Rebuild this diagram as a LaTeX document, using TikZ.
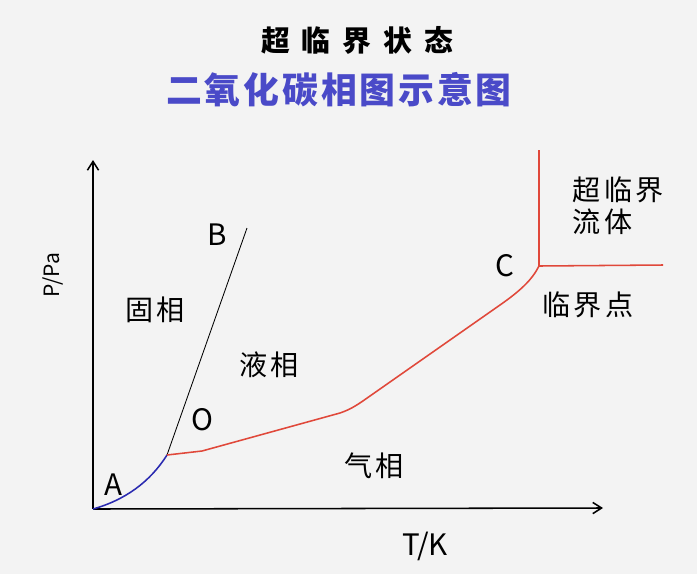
\documentclass[tikz,border=0pt]{standalone}
\usepackage{fontspec}
\setmainfont{Noto Sans CJK SC}
\newfontfamily\cjkphase[LetterSpace=13]{Noto Sans CJK SC}
\newfontfamily\cjksub[LetterSpace=8]{Noto Sans CJK SC}
\usetikzlibrary{positioning,arrows.meta}
\definecolor{paper}{HTML}{F3F3F3}
\definecolor{curvered}{HTML}{E0483A}
\definecolor{curveblue}{HTML}{2A2AB0}
\definecolor{titleblue}{HTML}{4A4AC8}

\begin{document}
\begin{tikzpicture}[x=0.025cm,y=-0.025cm,
  axis/.style={line width=1.1pt,-{Straight Barb[length=2.2mm,width=2.8mm]}},
  redline/.style={curvered,line width=1.1pt},
  blueline/.style={curveblue,line width=1.1pt},
  phase/.style={inner sep=0pt,font=\cjkphase\fontsize{20}{22.7}\selectfont},
  letter/.style={inner sep=0pt,font=\fontsize{21}{24}\selectfont}]
\fill[paper] (0,0) rectangle (697,574);

% titles
\node[inner sep=0pt,font=\bfseries\fontsize{20.5}{22}\selectfont] (title) at (357,40)
  {超\hspace{8.5pt}临\hspace{8.5pt}界\hspace{8.5pt}状\hspace{8.5pt}态};
\node[inner sep=0pt,text=titleblue,font=\cjksub\bfseries\fontsize{25.5}{28}\selectfont] (subtitle) at (339,90) {二氧化碳相图示意图};

% axes
\coordinate (origin) at (93,509);
\coordinate (ytop) at (93,160);
\coordinate (xend) at (603,508);
\draw[axis] (origin) -- (ytop);
\draw[axis] (origin) -- (xend);
\node[inner sep=0pt,rotate=90,font=\fontsize{15}{18}\selectfont] (pname) at (53,275) {P/Pa};
\node[letter,below=0.6cm of xend,xshift=-4.45cm] (tname) {T/K};

% phase boundaries
\coordinate (O) at (167,455);
\coordinate (Bend) at (247,228);
\coordinate (C) at (539,266);
\coordinate (Ctop) at (539,150);
\coordinate (Cright) at (663,265);
\draw[blueline] (origin) .. controls (125,500) and (150,482) .. (O);
\draw[line width=0.6pt] (O) -- (Bend);
\draw[redline] (O) -- (202,451) -- (340,413) .. controls (352,409) and (360,403) .. (370,396)
  -- (500,305) .. controls (520,291) and (532,280) .. (C);
\draw[redline] (Ctop) -- (C) -- (Cright);

% labels
\node[letter] (A) at (113,485) {A};
\node[letter] (Bl) at (217,235) {B};
\node[letter] (Ol) at (202,420) {O};
\node[letter,left=0.6cm of C] (Cl) {C};
\node[phase] (solid) at (155,310) {固相};
\node[phase] (liquid) at (269,365) {液相};
\node[phase] (gas) at (374,466) {气相};
\node[phase,align=left,anchor=west] (scf) at (572,206) {超临界\\流体};
\node[phase] (critical) at (588,305) {临界点};
\end{tikzpicture}
\end{document}
